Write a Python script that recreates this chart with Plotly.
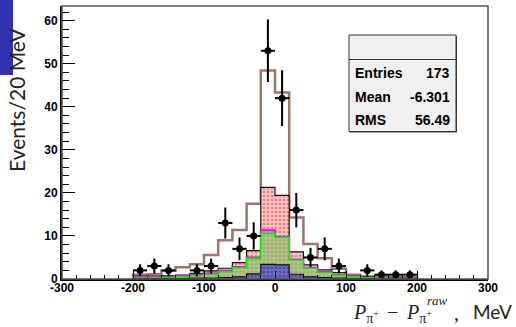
import numpy as np
import plotly.graph_objects as go

# ---- binning (20 MeV bins) ----
bin_edges = np.arange(-200, 201, 20)
bin_centers = (bin_edges[:-1] + bin_edges[1:]) / 2

# ---- stacked MC components, bottom to top (events per bin) ----
mc_blue = [0.1, 0.1, 0.1, 0.1, 0.2, 0.2, 0.3, 0.5, 1.2, 3.4, 3.3, 1.1, 0.5, 0.3, 0.2, 0.1, 0.1, 0.0, 0.0, 0.0]
mc_green = [0.2, 0.2, 0.3, 0.4, 0.6, 0.9, 1.4, 2.1, 3.6, 7.2, 6.4, 3.3, 2.0, 1.2, 0.7, 0.4, 0.2, 0.2, 0.1, 0.1]
mc_magenta = [0.3, 0.3, 0.2, 0.2, 0.2, 0.2, 0.2, 0.2, 0.2, 0.7, 0.1, 0.1, 0.1, 0.1, 0.1, 0.1, 0.0, 0.0, 0.1, 0.0]
mc_red = [0.1, 0.1, 0.2, 0.2, 0.3, 0.6, 0.6, 1.0, 1.6, 10.0, 9.6, 1.8, 0.7, 0.5, 0.5, 0.1, 0.2, 0.1, 0.1, 0.1]
mc_rest = [0.3, 0.4, 1.1, 1.8, 2.1, 3.7, 6.5, 7.6, 10.9, 27.1, 23.9, 8.0, 4.8, 2.7, 0.9, 0.3, 0.1, 0.2, 0.1, 0.2]

# ---- data counts per bin ----
data_counts = [2, 3, 2, 0, 2, 3, 13, 7, 10, 53, 42, 16, 5, 7, 3, 0, 2, 1, 1, 1]

# ---- statistics box ----
stats_labels = ["Entries", "Mean", "RMS"]
stats_values = ["173", "-6.301", "56.49"]

x_ticks = [-300, -200, -100, 0, 100, 200, 300]
y_ticks = [0, 10, 20, 30, 40, 50, 60]

# ---- figure geometry ----
W, H = 516, 327
ML, MR, MT, MB = 62, 28, 6, 48
PW, PH = W - ML - MR, H - MT - MB


def pxx(px):
    return (px - ML) / PW


def pxy(py):
    return (H - MB - py) / PH


def step_xy(vals):
    xs = [bin_edges[0]] + list(bin_edges[:-1]) + [bin_edges[-1]]
    ys = [0.0] + list(vals) + [0.0]
    return xs, ys


# cumulative stack levels
lvl_blue = np.array(mc_blue)
lvl_green = lvl_blue + np.array(mc_green)
lvl_magenta = lvl_green + np.array(mc_magenta)
lvl_red = lvl_magenta + np.array(mc_red)
lvl_total = lvl_red + np.array(mc_rest)

fig = go.Figure()

# total MC outline
xs, ys = step_xy(lvl_total)
fig.add_trace(go.Scatter(x=xs, y=ys, mode="lines", line=dict(color="#9a776a", width=2.5, shape="hv"),
                         hoverinfo="skip", showlegend=False))

layers = [
    (lvl_red, "#111111", 1.2, dict(shape=".", fgcolor="#e83030", bgcolor="#ffc6c6", size=4, solidity=0.35)),
    (lvl_magenta, "#ff00ff", 2.0, dict(shape=".", fgcolor="#e05050", bgcolor="#f0b8c0", size=4, solidity=0.35)),
    (lvl_green, "#00ee00", 1.6, dict(shape=".", fgcolor="#44c030", bgcolor="#c7b995", size=4, solidity=0.4)),
    (lvl_blue, "#111111", 1.2, dict(shape=".", fgcolor="#282890", bgcolor="#6a6bbb", size=4, solidity=0.35)),
]
for lvl, lc, lw, pat in layers:
    xs, ys = step_xy(lvl)
    fig.add_trace(go.Scatter(x=xs, y=ys, mode="lines", fill="tozeroy",
                             line=dict(color=lc, width=lw, shape="hv"),
                             fillcolor=pat["bgcolor"], fillpattern=pat,
                             hoverinfo="skip", showlegend=False))

# data points with Poisson errors
dc = np.array(data_counts, dtype=float)
mask = dc > 0
fig.add_trace(go.Scatter(
    x=bin_centers[mask], y=dc[mask], mode="markers",
    marker=dict(color="black", size=7, symbol="circle"),
    error_y=dict(type="data", array=np.sqrt(dc[mask]), color="black", thickness=2, width=0),
    error_x=dict(type="data", array=np.full(mask.sum(), 10.0), color="black", thickness=2, width=0),
    hoverinfo="skip", showlegend=False))

tickfont = dict(family="Liberation Sans", size=12, color="black", weight="bold")
fig.update_xaxes(range=[-300, 300], tickvals=x_ticks, ticktext=[str(v) for v in x_ticks],
                 ticks="inside", ticklen=8, tickwidth=1, tickcolor="black", ticklabelstandoff=-3,
                 minor=dict(dtick=20, tick0=-300, ticks="inside", ticklen=4, tickcolor="black", tickwidth=1),
                 showline=True, linecolor="black", linewidth=2, showgrid=False, zeroline=False,
                 tickfont=tickfont)
fig.update_yaxes(range=[0, 63.4], tickvals=y_ticks, ticktext=[str(v) for v in y_ticks],
                 ticks="inside", ticklen=13, tickwidth=1, tickcolor="black",
                 minor=dict(dtick=2, tick0=0, ticks="inside", ticklen=7, tickcolor="black", tickwidth=1),
                 showline=True, linecolor="black", linewidth=2, showgrid=False, zeroline=False,
                 tickfont=tickfont)

shapes = [
    # frame
    dict(type="rect", xref="paper", yref="paper", x0=0, x1=1, y0=0, y1=1,
         line=dict(color="#555555", width=1.5), layer="above"),
    # side bar
    dict(type="rect", xref="paper", yref="paper", x0=pxx(0), x1=pxx(13), y0=pxy(75), y1=pxy(0),
         fillcolor="#3232b0", line=dict(width=0), layer="below"),
    # stats box shadow and body
    dict(type="rect", xref="paper", yref="paper", x0=pxx(350), x1=pxx(457), y0=pxy(132.5), y1=pxy(36),
         fillcolor="#444444", line=dict(width=0), layer="above"),
    dict(type="rect", xref="paper", yref="paper", x0=pxx(349), x1=pxx(456), y0=pxy(131.5), y1=pxy(35),
         fillcolor="#f0f0f0", line=dict(color="#333333", width=1), layer="above"),
    dict(type="line", xref="paper", yref="paper", x0=pxx(349), x1=pxx(456), y0=pxy(59.5), y1=pxy(59.5),
         line=dict(color="#333333", width=1), layer="above"),
]

annotations = []
stat_font = dict(family="Liberation Sans", size=14, color="black", weight="bold")
for i, (lab, val) in enumerate(zip(stats_labels, stats_values)):
    yc = 73 + i * 23.5
    annotations.append(dict(text=lab, xref="paper", yref="paper", x=pxx(353), y=pxy(yc),
                            xanchor="left", yanchor="middle", showarrow=False, font=stat_font))
    annotations.append(dict(text=val, xref="paper", yref="paper", x=pxx(452), y=pxy(yc),
                            xanchor="right", yanchor="middle", showarrow=False, font=stat_font))

# y-axis title
annotations.append(dict(text="Events/20 MeV", xref="paper", yref="paper", x=pxx(16), y=pxy(100),
                        textangle=-90, xanchor="center", yanchor="middle", showarrow=False,
                        font=dict(family="Lato", size=21, color="#222222")))

# x-axis title, set piece by piece
math_font = dict(family="Liberation Serif", size=20, color="#222222")
p_sub = "<i>P</i><sub>π<sup>+</sup></sub>"
title_parts = [
    (p_sub, 351, 313, "left", math_font),
    ("−", 392, 312, "center", math_font),
    (p_sub, 404, 313, "left", math_font),
    ("<i>raw</i>", 425, 300, "left", dict(family="Liberation Serif", size=13, color="#222222")),
    (",", 456, 313, "center", math_font),
    ("MeV", 514, 311, "right", dict(family="Lato", size=19, color="#222222")),
]
for txt, px, py, anchor, fnt in title_parts:
    annotations.append(dict(text=txt, xref="paper", yref="paper", x=pxx(px), y=pxy(py),
                            xanchor=anchor, yanchor="middle", showarrow=False, font=fnt))

fig.update_layout(width=W, height=H, margin=dict(l=ML, r=MR, t=MT, b=MB),
                  paper_bgcolor="white", plot_bgcolor="white",
                  shapes=shapes, annotations=annotations, showlegend=False)

fig.write_html("out.html")
